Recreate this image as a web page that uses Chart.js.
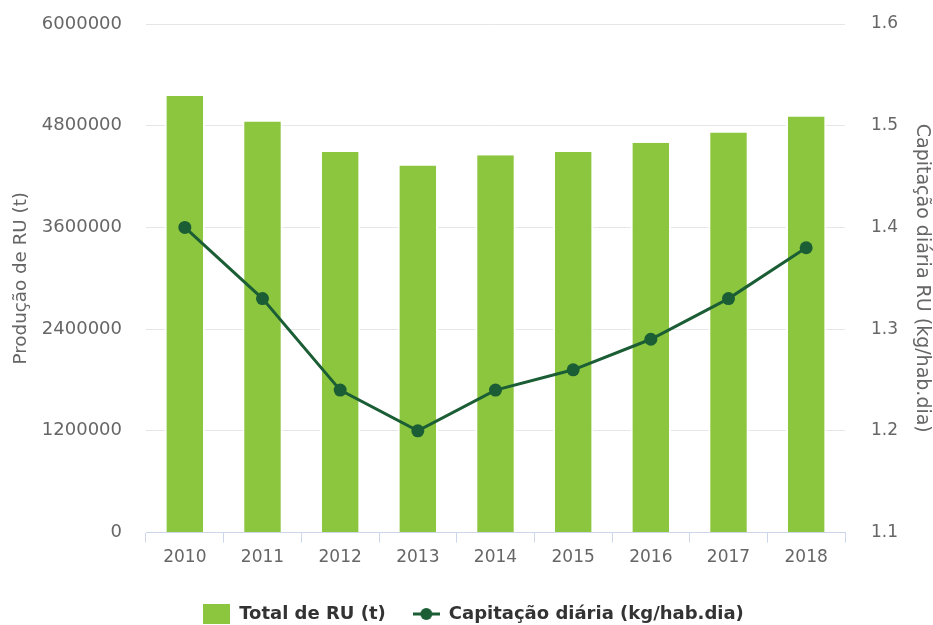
<!DOCTYPE html>
<html>
<head>
<meta charset="utf-8">
<script src="https://cdn.jsdelivr.net/npm/chart.js@4.4.1/dist/chart.umd.min.js"></script>
<style>
  html, body { margin: 0; padding: 0; background: #fff; }
  #wrap { width: 933px; height: 625px; position: relative; }
</style>
</head>
<body>
<div id="wrap"><canvas id="ruChart"></canvas></div>
<script>
const years = ["2010", "2011", "2012", "2013", "2014", "2015", "2016", "2017", "2018"];
const totalRU = [5150000, 4850000, 4490000, 4330000, 4450000, 4490000, 4600000, 4720000, 4910000];
const capitacao = [1.40, 1.33, 1.24, 1.20, 1.24, 1.26, 1.29, 1.33, 1.38];
const leftTicks = [0, 1200000, 2400000, 3600000, 4800000, 6000000];
const rightTicks = [1.1, 1.2, 1.3, 1.4, 1.5, 1.6];

const barGreen = "#8cc63f";
const lineGreen = "#1b5e35";
const FONT = "'DejaVu Sans', Verdana, sans-serif";

// legend symbols drawn to small canvases
function barSymbol() {
  const c = document.createElement("canvas");
  c.width = 27; c.height = 20;
  const g = c.getContext("2d");
  g.fillStyle = barGreen;
  g.fillRect(0, 0, 27, 20);
  return c;
}
function lineSymbol() {
  const c = document.createElement("canvas");
  c.width = 27; c.height = 14;
  const g = c.getContext("2d");
  g.strokeStyle = lineGreen;
  g.lineWidth = 3;
  g.beginPath(); g.moveTo(0, 7); g.lineTo(27, 7); g.stroke();
  g.fillStyle = lineGreen;
  g.beginPath(); g.arc(13.5, 7, 6, 0, Math.PI * 2); g.fill();
  return c;
}

// y axes: no extra label overhang, plot top/bottom come from the layout
function noOverhang(scale) {
  scale.paddingTop = 0;
  scale.paddingBottom = 0;
}

// legend sits a bit right of the canvas centre in the original
const legendNudge = {
  id: "legendNudge",
  afterLayout(chart) {
    if (!chart.legend) return;
    chart.legend.left += 7;
    chart.legend.right += 7;
  }
};

const ctx = document.getElementById("ruChart");
new Chart(ctx, {
  data: {
    labels: years,
    datasets: [{
      type: "line",
      label: "Capitação diária (kg/hab.dia)",
      data: capitacao,
      yAxisID: "y1",
      borderColor: lineGreen,
      backgroundColor: lineGreen,
      borderWidth: 3,
      pointRadius: 6.5,
      pointHoverRadius: 6.5,
      pointBackgroundColor: lineGreen,
      pointBorderWidth: 0,
      tension: 0,
      order: 0,
      legendSymbol: lineSymbol()
    }, {
      type: "bar",
      label: "Total de RU (t)",
      data: totalRU,
      yAxisID: "y",
      backgroundColor: barGreen,
      borderColor: "#ffffff",
      borderWidth: { left: 2, right: 2, top: 0 },
      categoryPercentage: 1,
      barPercentage: 0.52,
      order: 1,
      legendSymbol: barSymbol()
    }]
  },
  plugins: [legendNudge],
  options: {
    responsive: true,
    maintainAspectRatio: false,
    animation: false,
    layout: { padding: { top: 24, bottom: -8 } },
    plugins: {
      tooltip: { enabled: false },
      legend: {
        position: "bottom",
        reverse: true,
        labels: {
          usePointStyle: true,
          pointStyleWidth: 27,
          padding: 27,
          color: "#333333",
          font: { family: FONT, size: 18, weight: "bold" },
          generateLabels: function (chart) {
            return chart.data.datasets.map(function (ds, i) {
              return {
                text: ds.label,
                pointStyle: ds.legendSymbol,
                fillStyle: ds.backgroundColor,
                strokeStyle: ds.backgroundColor,
                lineWidth: 0,
                hidden: false,
                datasetIndex: i,
                fontColor: "#333333"
              };
            });
          }
        }
      }
    },
    scales: {
      x: {
        afterFit: function (scale) { scale.height = 45.5; },
        grid: {
          display: true,
          drawOnChartArea: false,
          drawTicks: true,
          tickLength: 10,
          color: "#ccd6eb",
          offset: true
        },
        border: { display: true, color: "#ccd6eb", width: 1 },
        ticks: {
          color: "#666666",
          padding: 5,
          maxRotation: 0,
          font: { family: FONT, size: 17 }
        }
      },
      y: {
        position: "left",
        min: 0,
        max: 6000000,
        afterBuildTicks: function (scale) {
          scale.ticks = leftTicks.map(v => ({ value: v }));
        },
        afterFit: function (scale) { scale.width = 146; noOverhang(scale); },
        grid: { color: "#e6e6e6", lineWidth: 1, drawTicks: false },
        border: { display: false },
        ticks: {
          color: "#666666",
          padding: 24,
          font: { family: FONT, size: 18 },
          callback: v => String(v)
        },
        title: {
          display: true,
          text: "Produção de RU (t)",
          color: "#666666",
          padding: { top: 10, bottom: 0 },
          font: { family: FONT, size: 18.3 }
        }
      },
      y1: {
        position: "right",
        min: 1.1,
        max: 1.6,
        afterBuildTicks: function (scale) {
          scale.ticks = rightTicks.map(v => ({ value: v }));
        },
        afterFit: function (scale) { scale.width = 88; noOverhang(scale); },
        grid: { display: false, drawTicks: false },
        border: { display: false },
        ticks: {
          color: "#666666",
          padding: 26,
          font: { family: FONT, size: 17 },
          callback: v => v.toFixed(1)
        },
        title: {
          display: true,
          text: "Capitação diária RU (kg/hab.dia)",
          color: "#666666",
          padding: { top: 0, bottom: 0 },
          font: { family: FONT, size: 19 }
        }
      }
    }
  }
});
</script>
</body>
</html>
